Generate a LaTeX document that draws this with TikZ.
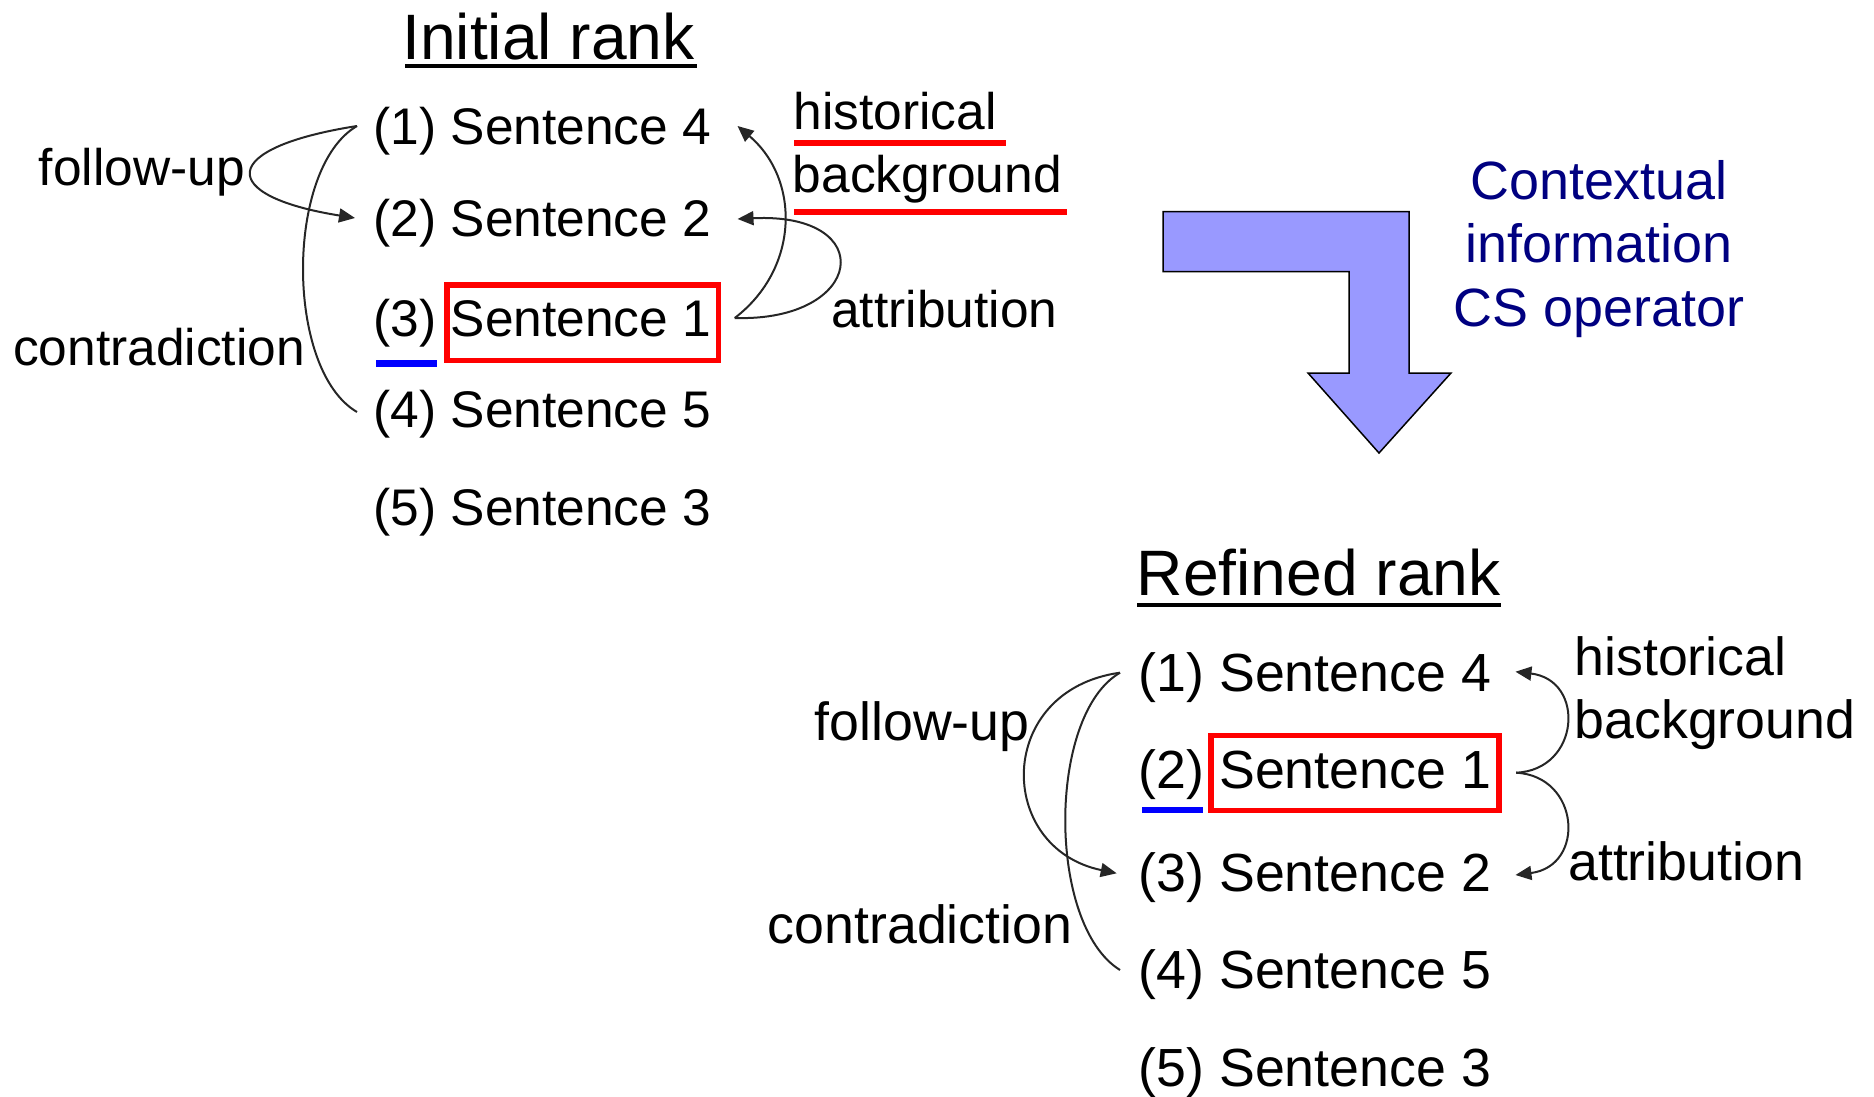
\documentclass[tikz,border=0pt]{standalone}
\usepackage{fontspec}
\setmainfont{Liberation Sans}
\usetikzlibrary{arrows.meta,calc}

\definecolor{arrowfill}{RGB}{153,153,255}
\definecolor{ctxblue}{RGB}{0,0,128}

\newcommand{\szTop}{\fontsize{51.5}{60}\selectfont}
\newcommand{\szBot}{\fontsize{53.7}{62}\selectfont}
\newcommand{\szHead}{\fontsize{64.2}{74}\selectfont}
\newcommand{\szCtx}{\fontsize{53.9}{62}\selectfont}

\tikzset{
  txt/.style={inner sep=0pt, anchor=base west},
  topitem/.style={txt, font=\szTop},
  toplabel/.style={txt, font=\szTop},
  botitem/.style={txt, font=\szBot},
  botlabel/.style={txt, font=\szBot},
  heading/.style={txt, font=\szHead},
  ctxtext/.style={inner sep=0pt, anchor=base, font=\szCtx, text=ctxblue},
  headrule/.style={draw=black, line width=4.4pt},
  focusbox/.style={draw=red, line width=5.5pt, inner sep=0pt},
  rankmark/.style={draw=blue, line width=6.5pt},
  cueline/.style={draw=red, line width=6pt},
  rel/.style={draw=black!85, line width=2pt},
  relarrow/.style={rel, -{Triangle[length=16pt,width=14pt]}},
  bigarrow/.style={fill=arrowfill, draw=black, line width=1.5pt, line join=miter},
}

\begin{document}
\begin{tikzpicture}[x=1pt,y=-1pt]
\useasboundingbox (0,0) rectangle (1874,1097);

% ---------------- initial ranking ----------------
\node[heading] (initT) at (402,60) {Initial rank};
\draw[headrule] (405,66.2) -- (697,66.2);

\node[topitem] (t1) at (373.3,144.5) {(1) Sentence 4};
\node[topitem] (t2) at (373.3,236.7) {(2) Sentence 2};
\node[topitem] (t3) at (373.3,336.7) {(3) Sentence 1};
\node[topitem] (t4) at (373.3,427.5) {(4) Sentence 5};
\node[topitem] (t5) at (373.3,525) {(5) Sentence 3};

\node[focusbox, minimum width=271.5pt, minimum height=75.5pt] (tbox) at (582.5,322.5) {};
\draw[rankmark] (376,363.3) -- (437,363.3);

\node[toplabel] (tfu) at (38.7,185) {follow-up};
\node[toplabel] (tct) at (12.8,365) {contradiction};
\node[toplabel] (thi) at (793.2,130) {historical};
\node[toplabel] (tbg) at (792.6,192) {background};
\node[toplabel] (tat) at (831.1,327) {attribution};
\draw[cueline] (794,143) -- (1006,143);
\draw[cueline] (794,212) -- (1067,212);

% relations between the sentences
\draw[relarrow] ($(t1.base west)+(-16.3,-18.5)$) .. controls (217,148) and (217,196) .. ($(t2.base west)+(-18.3,-18.7)$);
\draw[rel] ($(t1.base west)+(-16.3,-18.5)$) .. controls (285,168) and (285,370) .. ($(t4.base west)+(-16.3,-15.5)$);
\draw[relarrow] ($(tbox.east)+(13.75,-4.5)$) .. controls (800,268) and (800,179) .. ($(t1.base east)+(26,-18.5)$);
\draw[relarrow] ($(tbox.east)+(13.75,-4.5)$) .. controls (865,322) and (880,212) .. ($(t2.base east)+(26,-17.7)$);

% ---------------- re-ranking operator ----------------
\draw[bigarrow] (1163,211.5) -- (1409,211.5) -- (1409,373) -- (1451,373) -- (1379,453)
  -- (1308,373) -- (1349,373) -- (1349,271.5) -- (1163,271.5) -- cycle;
\node[ctxtext] (c1) at (1599,199) {Contextual};
\node[ctxtext] (c2) at (1599,262.5) {information};
\node[ctxtext] (c3) at (1599,326) {CS operator};

% ---------------- refined ranking ----------------
\node[heading] (refT) at (1136.6,595) {Refined rank};
\draw[headrule] (1137,605) -- (1500.7,605);

\node[botitem] (b1) at (1138.5,691.7) {(1) Sentence 4};
\node[botitem] (b2) at (1138.5,788.3) {(2) Sentence 1};
\node[botitem] (b3) at (1138.5,891.7) {(3) Sentence 2};
\node[botitem] (b4) at (1138.5,988.3) {(4) Sentence 5};
\node[botitem] (b5) at (1138.5,1086.7) {(5) Sentence 3};

\node[focusbox, minimum width=288.25pt, minimum height=75pt] (bbox) at (1354.9,773) {};
\draw[rankmark] (1142,810) -- (1203.3,810);

\node[botlabel] (bfu) at (814.4,740) {follow-up};
\node[botlabel] (bct) at (767.7,943.3) {contradiction};
\node[botlabel] (bhi) at (1574.3,675) {historical};
\node[botlabel] (bbg) at (1574.5,738.3) {background};
\node[botlabel] (bat) at (1568,880) {attribution};

\draw[relarrow] ($(b1.base west)+(-18.5,-19)$) .. controls (995,690) and (995,848) .. ($(b3.base west)+(-21.8,-18.4)$);
\draw[rel] ($(b1.base west)+(-18.5,-19)$) .. controls (1047,715) and (1047,925) .. ($(b4.base west)+(-18.5,-18.3)$);
\draw[relarrow] ($(bbox.east)+(14.3,-0.3)$) .. controls (1580,770) and (1586,680) .. ($(b1.base east)+(24.3,-20)$);
\draw[relarrow] ($(bbox.east)+(14.3,-0.3)$) .. controls (1580,776) and (1586,866) .. ($(b3.base east)+(24.3,-16.7)$);
\end{tikzpicture}
\end{document}
